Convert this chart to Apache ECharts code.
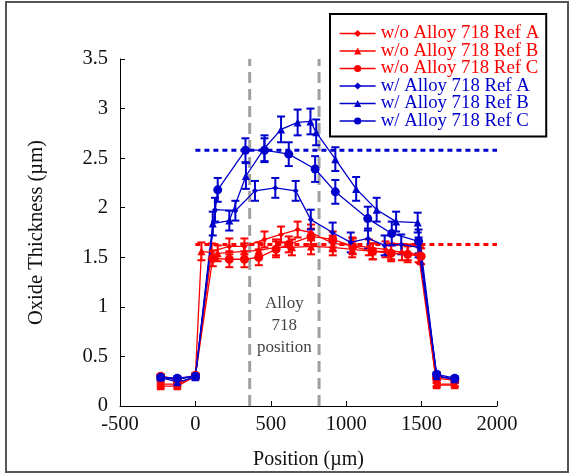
<!DOCTYPE html>
<html><head><meta charset="utf-8">
<script src="https://cdn.jsdelivr.net/npm/echarts@6/dist/echarts.min.js"></script>
<style>html,body{margin:0;padding:0;background:#fff}#c{width:570px;height:475px}</style>
</head><body><div id="c"></div>
<script>
// ---- data ----
const xTicks = [-500, 0, 500, 1000, 1500, 2000];
const yTicks = [0, 0.5, 1, 1.5, 2, 2.5, 3, 3.5];

const woA_x = [-230,-120,0,108,225,325,458,568,678,767,911,1040,1150,1260,1370,1480,1600,1720];
const woA_y = [0.22,0.22,0.30,1.56,1.61,1.61,1.68,1.73,1.78,1.75,1.64,1.62,1.60,1.58,1.55,1.53,0.22,0.22];
const woA_e = [0.02,0.02,0.02,0.08,0.08,0.08,0.08,0.08,0.08,0.08,0.08,0.08,0.08,0.08,0.08,0.08,0.02,0.02];

const woB_x = [-230,-120,0,40,148,325,420,535,640,767,911,1040,1176,1298,1408,1490,1600,1720];
const woB_y = [0.20,0.20,0.30,1.56,1.54,1.56,1.57,1.60,1.60,1.61,1.60,1.58,1.56,1.56,1.55,1.52,0.21,0.21];
const woB_e = [0.02,0.02,0.02,0.09,0.08,0.08,0.08,0.08,0.08,0.08,0.08,0.08,0.08,0.08,0.08,0.08,0.02,0.02];

const woC_x = [-230,-120,0,115,225,325,420,535,619,767,911,1044,1176,1298,1408,1497,1600,1720];
const woC_y = [0.30,0.27,0.31,1.49,1.48,1.48,1.50,1.58,1.63,1.71,1.68,1.61,1.56,1.54,1.53,1.51,0.28,0.26];
const woC_e = [0.02,0.02,0.02,0.08,0.08,0.08,0.08,0.08,0.08,0.08,0.08,0.08,0.08,0.08,0.08,0.08,0.02,0.02];

const wA_x = [-230,-120,0,130,265,395,530,665,765,910,1030,1145,1255,1365,1480,1600,1720];
const wA_y = [0.28,0.27,0.30,1.98,1.97,2.17,2.20,2.17,1.88,1.75,1.65,1.69,1.62,1.63,1.60,0.31,0.26];
const wA_e = [0.02,0.02,0.02,0.12,0.10,0.10,0.10,0.10,0.10,0.10,0.10,0.10,0.10,0.10,0.10,0.02,0.02];

const wB_x = [-230,-120,0,115,225,335,458,568,678,763,801,928,1066,1202,1331,1474,1600,1720];
const wB_y = [0.29,0.24,0.29,1.84,1.87,2.32,2.60,2.79,2.86,2.87,2.76,2.49,2.19,1.98,1.86,1.85,0.30,0.27];
const wB_e = [0.02,0.02,0.02,0.12,0.10,0.13,0.13,0.13,0.13,0.13,0.13,0.12,0.12,0.12,0.10,0.10,0.02,0.02];

const wC_x = [-230,-120,0,148,332,458,619,794,928,1143,1302,1480,1600,1720];
const wC_y = [0.29,0.28,0.30,2.18,2.58,2.58,2.54,2.39,2.16,1.89,1.74,1.66,0.32,0.28];
const wC_e = [0.02,0.02,0.02,0.12,0.12,0.12,0.12,0.13,0.12,0.12,0.12,0.12,0.02,0.02];

const alloyBounds = [360, 820];
const avgNoAlloy = 1.63;
const avgAlloy = 2.58;
const avgSpan = [0, 2000];
const alloyLabelPos = [590, 0.81];

// ---- styles ----
const RED = '#ff0000', BLUE = '#0000cc';
const FONT = 'Liberation Serif';

function zip(xs, ys){ return xs.map((x,i)=>[x, ys[i]]); }
function zip3(xs, ys, es){ return xs.map((x,i)=>[x, ys[i], es[i]]); }

const defs = [
  {name:'w/o Alloy 718 Ref A', x:woA_x, y:woA_y, e:woA_e, c:RED, sym:'diamond', size:6},
  {name:'w/o Alloy 718 Ref B', x:woB_x, y:woB_y, e:woB_e, c:RED, sym:'triangle', size:8},
  {name:'w/o Alloy 718 Ref C', x:woC_x, y:woC_y, e:woC_e, c:RED, sym:'circle', size:9},
  {name:'w/ Alloy 718 Ref A', x:wA_x, y:wA_y, e:wA_e, c:BLUE, sym:'diamond', size:6},
  {name:'w/ Alloy 718 Ref B', x:wB_x, y:wB_y, e:wB_e, c:BLUE, sym:'triangle', size:8},
  {name:'w/ Alloy 718 Ref C', x:wC_x, y:wC_y, e:wC_e, c:BLUE, sym:'circle', size:9}
];

const series = [];
// reference lines
series.push({type:'line', silent:true, symbol:'none', data:[[alloyBounds[0],0],[alloyBounds[0],3.5]],
  lineStyle:{color:'#a0a0a0', width:3, type:[11,6]}, z:1});
series.push({type:'line', silent:true, symbol:'none', data:[[alloyBounds[1],0],[alloyBounds[1],3.5]],
  lineStyle:{color:'#a0a0a0', width:3, type:[11,6]}, z:1});
series.push({type:'line', silent:true, symbol:'none', data:[[avgSpan[0],avgAlloy],[avgSpan[1],avgAlloy]],
  lineStyle:{color:BLUE, width:3, type:[5,4]}, z:1});
series.push({type:'line', silent:true, symbol:'none', data:[[avgSpan[0],avgNoAlloy],[avgSpan[1],avgNoAlloy]],
  lineStyle:{color:RED, width:3, type:[5,4]}, z:1});

defs.forEach((d, k) => {
  series.push({
    type:'custom', name:'err'+k, silent:true, z:3,
    data: zip3(d.x, d.y, d.e),
    renderItem: (params, api) => {
      const x = api.value(0), y = api.value(1), e = api.value(2);
      const t = api.coord([x, y+e]), b = api.coord([x, y-e]);
      const w = 4;
      const st = {stroke:d.c, lineWidth:2};
      return {type:'group', children:[
        {type:'line', shape:{x1:t[0],y1:t[1],x2:b[0],y2:b[1]}, style:st},
        {type:'line', shape:{x1:t[0]-w,y1:t[1],x2:t[0]+w,y2:t[1]}, style:st},
        {type:'line', shape:{x1:b[0]-w,y1:b[1],x2:b[0]+w,y2:b[1]}, style:st}
      ]};
    }
  });
  series.push({
    type:'line', name:d.name, data: zip(d.x, d.y), z:4,
    symbol:d.sym, symbolSize:d.size, showAllSymbol:true,
    lineStyle:{color:d.c, width:1.3}, itemStyle:{color:d.c}
  });
});

series.push({type:'scatter', silent:true, symbolSize:0, data:[alloyLabelPos],
  label:{show:true, position:'inside', formatter:'Alloy\n718\nposition', color:'#111',
    fontFamily:FONT, fontSize:17, lineHeight:22, align:'center', verticalAlign:'middle'}});

const option = {
  animation:false,
  backgroundColor:'#fff',
  textStyle:{fontFamily:FONT},
  grid:{left:120, right:73, top:59, bottom:69, containLabel:false},
  legend:{
    orient:'vertical', left:330, top:14,
    backgroundColor:'#fff', borderColor:'#000', borderWidth:2,
    padding:[10,7,6,9], itemGap:-1.5, itemWidth:36, itemHeight:9,
    data: defs.map(d => ({name:d.name, itemStyle:{color:d.c}, lineStyle:{color:d.c, width:1.3}, textStyle:{color:d.c}})),
    textStyle:{fontFamily:FONT, fontSize:18.8, lineHeight:16}
  },
  xAxis:{type:'value', min:-500, max:2000, interval:500,
    name:'Position (\u00b5m)', nameLocation:'middle', nameGap:44,
    nameTextStyle:{fontFamily:FONT, fontSize:20, color:'#111'},
    axisLine:{show:true, onZero:false, lineStyle:{color:'#000', width:1}},
    axisTick:{show:true, inside:true, length:5, lineStyle:{color:'#000'}},
    axisLabel:{fontFamily:FONT, fontSize:20.5, color:'#111', margin:8,
      formatter:v => xTicks.includes(v) ? String(v) : ''},
    splitLine:{show:false}},
  yAxis:{type:'value', min:0, max:3.5, interval:0.5,
    name:'Oxide Thickness (\u00b5m)', nameLocation:'middle', nameGap:73, nameRotate:90,
    nameTextStyle:{fontFamily:FONT, fontSize:20.5, color:'#111'},
    axisLine:{show:true, onZero:false, lineStyle:{color:'#000', width:1}},
    axisTick:{show:true, inside:true, length:5, lineStyle:{color:'#000'}},
    axisLabel:{fontFamily:FONT, fontSize:20.5, color:'#111', margin:12,
      formatter:v => yTicks.includes(v) ? String(v) : ''},
    splitLine:{show:false}},
  graphic:[{type:'rect', shape:{x:6, y:2, width:562, height:470}, silent:true, z:-10,
    style:{fill:'none', stroke:'#555', lineWidth:2}}],
  series: series
};
const chart = echarts.init(document.getElementById('c'), null, {renderer:'canvas'});
chart.setOption(option);
</script></body></html>
